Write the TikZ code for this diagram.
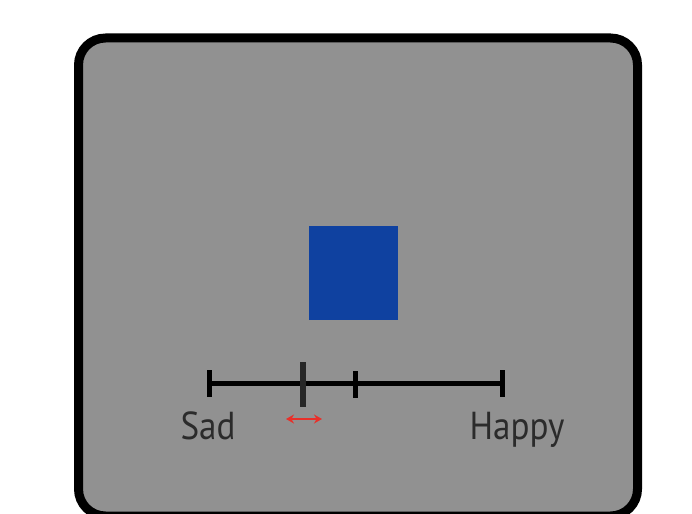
\documentclass[tikz,border=0pt]{standalone}
\usepackage{fontspec}
\setmainfont{PT Sans}
\usetikzlibrary{arrows.meta}
\definecolor{panelgray}{HTML}{919191}
\definecolor{squareblue}{HTML}{0F41A0}
\definecolor{labelgray}{HTML}{2B2B2B}
\definecolor{arrowred}{HTML}{E8302A}
\newcommand{\narrowtext}[1]{\scalebox{0.9}[1]{#1}}
\tikzset{
  panel/.style={draw=black, fill=panelgray, line width=9pt, rounded corners=27pt},
  scaleline/.style={draw=black, line width=5pt},
  tickmark/.style={draw=black, line width=5pt},
  cursor/.style={draw=labelgray!90!black, line width=5.5pt},
  lbl/.style={text=labelgray, font=\fontsize{39}{39}\selectfont, anchor=base, inner sep=0pt},
  adjarrow/.style={draw=arrowred, line width=2.5pt, {Stealth[length=8pt,width=9pt]}-{Stealth[length=8pt,width=9pt]}}
}
\begin{document}
\begin{tikzpicture}[x=1pt,y=-1pt]
\useasboundingbox (0,0) rectangle (692,513);
\fill[white] (0,0) rectangle (692,513);
\begin{scope}
\clip (0,0) rectangle (692,513);
\path[panel] (78.5,38) rectangle (637.5,516);
\end{scope}
\fill[squareblue] (309,226) rectangle (398,320);
\coordinate (l) at (209,383);
\coordinate (r) at (502,383);
\draw[scaleline] (l) -- (r);
\draw[tickmark] (209,370) -- (209,397);
\draw[tickmark] (355,371) -- (355,398);
\draw[tickmark] (502,370) -- (502,397);
\draw[cursor] (303,362) -- (303,407);
\coordinate (a1) at (286,419);
\coordinate (a2) at (322,419);
\draw[adjarrow] (a1) -- (a2);
\node[lbl] (sad) at (208,439) {\narrowtext{Sad}};
\node[lbl] (happy) at (517,439) {\narrowtext{Happy}};
\end{tikzpicture}
\end{document}
